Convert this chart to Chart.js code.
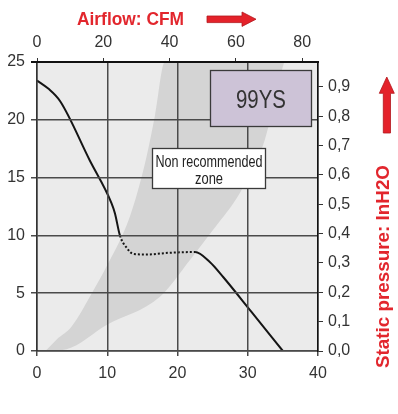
<!DOCTYPE html>
<html lang="en">
<head>
<meta charset="UTF-8">
<title>99YS</title>
<script src="https://cdn.jsdelivr.net/npm/chart.js"></script>
<style>
  html, body { margin: 0; padding: 0; background: #fff; }
  canvas { display: block; }
</style>
</head>
<body>
<canvas id="fanChart" width="398" height="414"></canvas>
<script>
  // fan curve: flow (l/s) vs static pressure (mm H2O)
  const fanFlow     = [0, 1.6, 3.3, 7.5, 10.6, 11.1, 11.8, 12.8, 13.7, 15.6, 18.9, 22.5, 24.6, 26.5, 30.5, 35.0];
  const fanPressure = [23.4, 22.7, 21.6, 16.5, 12.8, 11.9, 10.0, 8.9, 8.4, 8.35, 8.5, 8.56, 7.7, 6.4, 3.4, 0];
  const dottedFrom = 6, dottedTo = 11; // stall part, drawn dotted

  // grey "non recommended" band, upper and lower edge
  const zoneUpperFlow     = [1.2, 2.8, 4.9, 7.8, 9.9, 13.2, 15.4, 16.8, 18.2, 35.2];
  const zoneUpperPressure = [0, 1.0, 2.1, 5.0, 7.3, 11.6, 16.3, 20.4, 25, 25];
  const zoneLowerFlow     = [1.2, 4.2, 9.9, 17.5, 21.8, 25.1, 29.0, 32.4, 35.0, 35.2];
  const zoneLowerPressure = [0, 0.15, 2.25, 4.7, 7.9, 10.5, 13.8, 18.2, 24.6, 25];

  // axes
  const flowTicks = [0, 10, 20, 30, 40];
  const pressureTicks = [0, 5, 10, 15, 20, 25];
  const cfmTicks = [0, 20, 40, 60, 80];
  const inchTicks = [0, 0.1, 0.2, 0.3, 0.4, 0.5, 0.6, 0.7, 0.8, 0.9];
  const flowMax = 40, pressureMax = 25;
  const CFM_PER_LS = 2.11888, IN_PER_MM = 0.0393701;

  const FONT = "'Liberation Sans Narrow', 'Arial Narrow', 'Liberation Sans', Arial, sans-serif";
  const RED = '#e2262d';

  const pts = (xs, ys) => xs.map((v, i) => ({ x: v, y: ys[i] }));
  const setTicks = arr => scale => { scale.ticks = arr.map(v => ({ value: v })); };

  // draw text squeezed to a given width
  function fitText(ctx, text, cx, baseY, width, font) {
    ctx.font = font;
    const w = ctx.measureText(text).width;
    ctx.save();
    ctx.translate(cx, baseY);
    ctx.scale(width / w, 1);
    ctx.textAlign = 'center';
    ctx.textBaseline = 'alphabetic';
    ctx.fillText(text, 0, 0);
    ctx.restore();
  }

  function boxAt(ctx, xs, ys, x0, x1, y0, y1, fill) {
    const l = Math.round(xs.getPixelForValue(x0)) + 0.5, r = Math.round(xs.getPixelForValue(x1)) + 0.5;
    const t = Math.round(ys.getPixelForValue(y0)) + 0.5, b = Math.round(ys.getPixelForValue(y1)) + 0.5;
    ctx.fillStyle = fill;
    ctx.fillRect(l, t, r - l, b - t);
    ctx.strokeStyle = '#3a3a3a';
    ctx.lineWidth = 1.3;
    ctx.strokeRect(l, t, r - l, b - t);
    return { l, r, t, b, cx: (l + r) / 2, cy: (t + b) / 2 };
  }

  const decorations = {
    id: 'decorations',
    beforeDraw(chart) {
      const { ctx, chartArea: a } = chart;
      ctx.save();
      ctx.fillStyle = '#ebebeb';
      ctx.fillRect(a.left, a.top, a.right - a.left, a.bottom - a.top);
      ctx.restore();
    },
    afterDraw(chart) {
      const { ctx } = chart;
      const xs = chart.scales.x, ys = chart.scales.y;
      ctx.save();

      // model box
      const m = boxAt(ctx, xs, ys, 24.6, 39.0, 24.3, 19.45, '#cdc3d7');
      ctx.fillStyle = '#333';
      fitText(ctx, '99YS', m.cx, m.cy + 9, 50, "25px 'Liberation Sans', Arial, sans-serif");

      // zone label
      const z = boxAt(ctx, xs, ys, 16.35, 32.45, 17.55, 14.1, '#ffffff');
      ctx.fillStyle = '#222';
      fitText(ctx, 'Non recommended', z.cx, z.t + 18, 107, "16px " + FONT);
      fitText(ctx, 'zone', z.cx, z.t + 35, 28, "16px " + FONT);

      // axis titles
      ctx.fillStyle = RED;
      fitText(ctx, 'Airflow: CFM', 130.5, 24.5, 107, "bold 19px 'Liberation Sans', Arial, sans-serif");

      ctx.save();
      ctx.translate(389, 266.5);
      ctx.rotate(-Math.PI / 2);
      fitText(ctx, 'Static pressure: InH2O', 0, 0, 203, "bold 19px 'Liberation Sans', Arial, sans-serif");
      ctx.restore();

      // arrows
      ctx.fillStyle = '#e4222a';
      ctx.strokeStyle = '#b3161d';
      ctx.lineWidth = 0.8;
      ctx.beginPath();
      ctx.moveTo(207, 16); ctx.lineTo(242, 16); ctx.lineTo(242, 12); ctx.lineTo(256, 19.2);
      ctx.lineTo(242, 26.4); ctx.lineTo(242, 22.6); ctx.lineTo(207, 22.6); ctx.closePath();
      ctx.fill(); ctx.stroke();

      ctx.beginPath();
      ctx.moveTo(383.3, 133); ctx.lineTo(383.3, 93.3); ctx.lineTo(379.3, 93.3); ctx.lineTo(386.8, 77);
      ctx.lineTo(394.3, 93.3); ctx.lineTo(390.5, 93.3); ctx.lineTo(390.5, 133); ctx.closePath();
      ctx.fill(); ctx.stroke();

      ctx.restore();
    }
  };

  const tickFont = { family: FONT, size: 16 };

  new Chart(document.getElementById('fanChart'), {
    type: 'line',
    data: {
      datasets: [
        {
          label: 'fan',
          data: pts(fanFlow, fanPressure),
          borderColor: '#151515',
          borderWidth: 2,
          pointRadius: 0,
          cubicInterpolationMode: 'monotone',
          fill: false,
          order: 0,
          segment: {
            borderDash: c => (c.p0DataIndex >= dottedFrom && c.p1DataIndex <= dottedTo) ? [2, 2] : undefined
          }
        },
        {
          label: 'zone upper',
          data: pts(zoneUpperFlow, zoneUpperPressure),
          borderWidth: 0,
          borderColor: 'rgba(0,0,0,0)',
          backgroundColor: '#d4d4d4',
          pointRadius: 0,
          cubicInterpolationMode: 'monotone',
          fill: 2,
          order: 5
        },
        {
          label: 'zone lower',
          data: pts(zoneLowerFlow, zoneLowerPressure),
          borderWidth: 0,
          borderColor: 'rgba(0,0,0,0)',
          pointRadius: 0,
          cubicInterpolationMode: 'monotone',
          fill: false,
          order: 6
        }
      ]
    },
    options: {
      responsive: false,
      animation: false,
      devicePixelRatio: 1,
      layout: { padding: 0 },
      plugins: {
        legend: { display: false },
        tooltip: { enabled: false }
      },
      scales: {
        x: {
          type: 'linear', position: 'bottom', min: 0, max: flowMax,
          afterBuildTicks: setTicks(flowTicks),
          afterFit: s => { s.height = 63; },
          grid: { color: '#4a4a4a', lineWidth: 1.5, tickLength: 5, z: 1 },
          border: { color: '#222', width: 1.5, z: 1 },
          ticks: { font: tickFont, color: '#333', padding: 8, maxRotation: 0 }
        },
        y: {
          type: 'linear', position: 'left', min: 0, max: pressureMax,
          afterBuildTicks: setTicks(pressureTicks),
          afterFit: s => { s.width = 37; },
          grid: {
            color: c => (c.tick && c.tick.value === pressureMax) ? '#111' : '#4a4a4a',
            lineWidth: c => (c.tick && c.tick.value === pressureMax) ? 2 : 1.5,
            tickLength: 6, z: 1
          },
          border: { color: '#333', width: 1.5, z: 1 },
          ticks: { font: tickFont, color: '#333', padding: 6 }
        },
        xTop: {
          type: 'linear', position: 'top', min: 0, max: flowMax * CFM_PER_LS,
          afterBuildTicks: setTicks(cfmTicks),
          afterFit: s => { s.height = 62; },
          grid: { drawOnChartArea: false, color: '#333', tickLength: 4, z: 1 },
          border: { color: '#111', width: 2, z: 2 },
          ticks: { font: tickFont, color: '#333', padding: 6, maxRotation: 0 }
        },
        yRight: {
          type: 'linear', position: 'right', min: 0, max: pressureMax * IN_PER_MM,
          afterBuildTicks: setTicks(inchTicks),
          afterFit: s => { s.width = 80; },
          grid: { drawOnChartArea: false, color: '#333', tickLength: 5, z: 1 },
          border: { color: '#111', width: 1.5, z: 2 },
          ticks: {
            font: tickFont, color: '#333', padding: 5,
            callback: v => v.toFixed(1).replace('.', ',')
          }
        }
      }
    },
    plugins: [decorations]
  });
</script>
</body>
</html>
